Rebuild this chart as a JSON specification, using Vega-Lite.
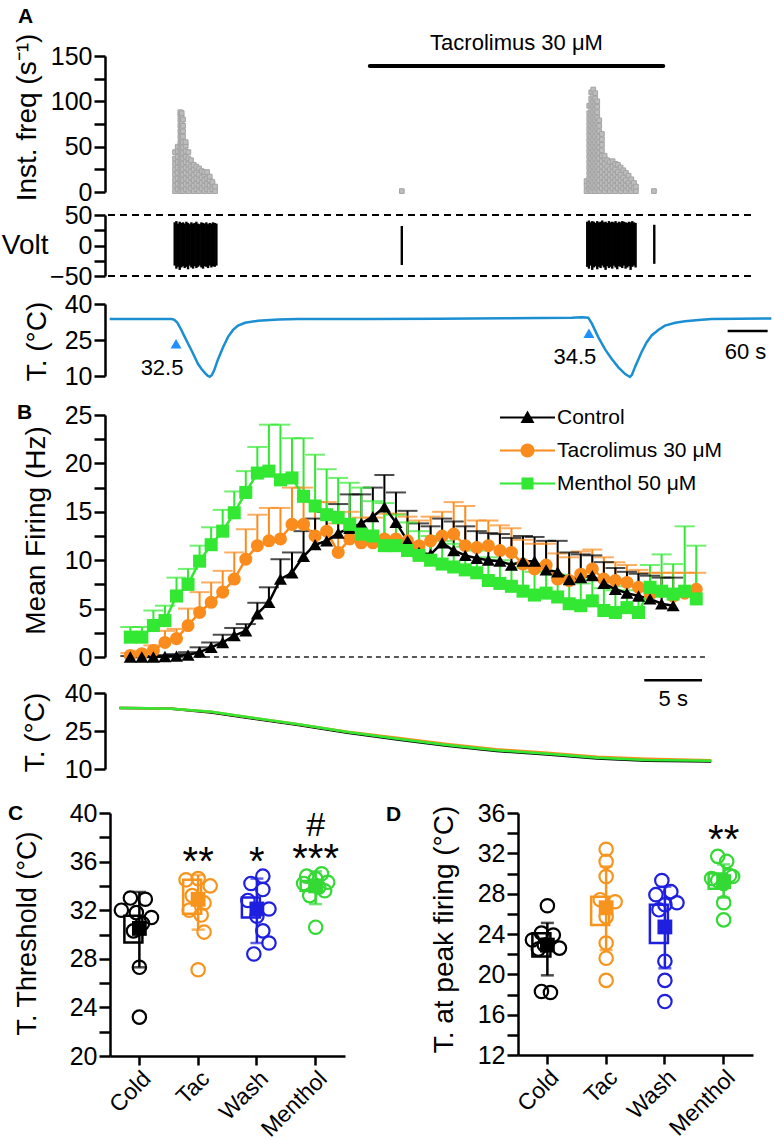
{
"$schema": "https://vega.github.io/schema/vega-lite/v6.json",
"padding": {"left": 1, "top": 5, "right": 0, "bottom": 0},
"spacing": 0,
"bounds": "flush",
"resolve": {"scale": {"color": "independent", "shape": "independent", "fill": "independent", "xOffset": "independent"}},
"config": {
  "font": "Liberation Sans",
  "view": {"stroke": null},
  "axis": {"domainColor": "#000", "domainWidth": 2.5, "tickColor": "#000", "tickWidth": 2.5, "tickSize": 11, "labelFontSize": 25, "labelColor": "#000", "labelPadding": 2, "labelOverlap": false, "titleFontSize": 28, "titleFontWeight": "normal", "titleColor": "#000", "titlePadding": 4, "grid": false, "labelFont": "Liberation Sans", "titleFont": "Liberation Sans"},
  "title": {"fontSize": 21, "fontWeight": "bold", "anchor": "start", "frame": "group", "color": "#000", "font": "Liberation Sans"},
  "text": {"font": "Liberation Sans", "color": "#000"},
  "legend": {"labelFont": "Liberation Sans", "labelColor": "#000"}
},
"datasets": {
  "freq": [
{"t":105,"f":1},{"t":105,"f":7},{"t":105,"f":13},{"t":105,"f":19},{"t":105,"f":25},{"t":105,"f":31},{"t":105,"f":37},{"t":105,"f":44},
{"t":109,"f":3},{"t":109,"f":9},{"t":109,"f":15},{"t":109,"f":21},{"t":109,"f":27},{"t":109,"f":33},{"t":109,"f":39},{"t":109,"f":45},{"t":109,"f":50},
{"t":113,"f":1},{"t":113,"f":7},{"t":113,"f":13},{"t":113,"f":19},{"t":113,"f":25},{"t":113,"f":31},{"t":113,"f":37},{"t":113,"f":43},{"t":113,"f":49},{"t":113,"f":55},{"t":113,"f":61},{"t":113,"f":67},{"t":113,"f":73},{"t":113,"f":79},{"t":113,"f":85},{"t":113,"f":88},
{"t":115,"f":4},{"t":115,"f":10},{"t":115,"f":16},{"t":115,"f":22},{"t":115,"f":28},{"t":115,"f":34},{"t":115,"f":40},{"t":115,"f":46},{"t":115,"f":52},{"t":115,"f":58},{"t":115,"f":64},{"t":115,"f":70},{"t":115,"f":76},{"t":115,"f":82},{"t":115,"f":87},
{"t":117,"f":1},{"t":117,"f":7},{"t":117,"f":13},{"t":117,"f":19},{"t":117,"f":25},{"t":117,"f":31},{"t":117,"f":37},{"t":117,"f":43},{"t":117,"f":49},{"t":117,"f":55},{"t":117,"f":61},{"t":117,"f":67},{"t":117,"f":73},{"t":117,"f":80},
{"t":121,"f":3},{"t":121,"f":9},{"t":121,"f":15},{"t":121,"f":21},{"t":121,"f":27},{"t":121,"f":33},{"t":121,"f":39},{"t":121,"f":45},{"t":121,"f":51},{"t":121,"f":55},
{"t":125,"f":1},{"t":125,"f":7},{"t":125,"f":13},{"t":125,"f":19},{"t":125,"f":25},{"t":125,"f":31},{"t":125,"f":37},{"t":125,"f":44},
{"t":129,"f":4},{"t":129,"f":10},{"t":129,"f":16},{"t":129,"f":22},{"t":129,"f":28},{"t":129,"f":35},
{"t":133,"f":1},{"t":133,"f":7},{"t":133,"f":13},{"t":133,"f":19},{"t":133,"f":25},{"t":133,"f":30},
{"t":137,"f":3},{"t":137,"f":9},{"t":137,"f":15},{"t":137,"f":21},{"t":137,"f":28},
{"t":141,"f":1},{"t":141,"f":7},{"t":141,"f":13},{"t":141,"f":19},{"t":141,"f":26},
{"t":145,"f":4},{"t":145,"f":10},{"t":145,"f":16},{"t":145,"f":23},
{"t":149,"f":1},{"t":149,"f":7},{"t":149,"f":13},{"t":149,"f":19},{"t":149,"f":22},
{"t":153,"f":3},{"t":153,"f":9},{"t":153,"f":15},{"t":153,"f":22},
{"t":157,"f":1},{"t":157,"f":7},{"t":157,"f":13},{"t":157,"f":17},
{"t":161,"f":3},{"t":161,"f":9},{"t":161,"f":11},
{"t":165,"f":1},{"t":165,"f":6},
{"t":445,"f":1},
{"t":722,"f":1},{"t":722,"f":7},{"t":722,"f":12},
{"t":726,"f":3},{"t":726,"f":9},{"t":726,"f":15},{"t":726,"f":21},{"t":726,"f":27},{"t":726,"f":33},{"t":726,"f":39},{"t":726,"f":45},{"t":726,"f":51},{"t":726,"f":57},{"t":726,"f":63},{"t":726,"f":69},{"t":726,"f":75},{"t":726,"f":81},{"t":726,"f":87},{"t":726,"f":95},
{"t":729,"f":1},{"t":729,"f":7},{"t":729,"f":13},{"t":729,"f":19},{"t":729,"f":25},{"t":729,"f":31},{"t":729,"f":37},{"t":729,"f":43},{"t":729,"f":49},{"t":729,"f":55},{"t":729,"f":61},{"t":729,"f":67},{"t":729,"f":73},{"t":729,"f":79},{"t":729,"f":85},{"t":729,"f":91},{"t":729,"f":97},{"t":729,"f":103},{"t":729,"f":110},
{"t":732,"f":4},{"t":732,"f":10},{"t":732,"f":16},{"t":732,"f":22},{"t":732,"f":28},{"t":732,"f":34},{"t":732,"f":40},{"t":732,"f":46},{"t":732,"f":52},{"t":732,"f":58},{"t":732,"f":64},{"t":732,"f":70},{"t":732,"f":76},{"t":732,"f":82},{"t":732,"f":88},{"t":732,"f":94},{"t":732,"f":100},{"t":732,"f":106},{"t":732,"f":113},
{"t":735,"f":1},{"t":735,"f":7},{"t":735,"f":13},{"t":735,"f":19},{"t":735,"f":25},{"t":735,"f":31},{"t":735,"f":37},{"t":735,"f":43},{"t":735,"f":49},{"t":735,"f":55},{"t":735,"f":61},{"t":735,"f":67},{"t":735,"f":73},{"t":735,"f":79},{"t":735,"f":85},{"t":735,"f":91},{"t":735,"f":97},{"t":735,"f":103},{"t":735,"f":109},
{"t":738,"f":4},{"t":738,"f":10},{"t":738,"f":16},{"t":738,"f":22},{"t":738,"f":28},{"t":738,"f":34},{"t":738,"f":40},{"t":738,"f":46},{"t":738,"f":52},{"t":738,"f":58},{"t":738,"f":64},{"t":738,"f":70},{"t":738,"f":76},{"t":738,"f":82},{"t":738,"f":88},{"t":738,"f":94},{"t":738,"f":100},
{"t":741,"f":1},{"t":741,"f":7},{"t":741,"f":13},{"t":741,"f":19},{"t":741,"f":25},{"t":741,"f":31},{"t":741,"f":37},{"t":741,"f":43},{"t":741,"f":49},{"t":741,"f":55},{"t":741,"f":61},{"t":741,"f":67},{"t":741,"f":73},{"t":741,"f":79},
{"t":745,"f":4},{"t":745,"f":10},{"t":745,"f":16},{"t":745,"f":22},{"t":745,"f":28},{"t":745,"f":34},{"t":745,"f":40},{"t":745,"f":46},{"t":745,"f":52},{"t":745,"f":58},{"t":745,"f":64},
{"t":749,"f":1},{"t":749,"f":7},{"t":749,"f":13},{"t":749,"f":19},{"t":749,"f":25},{"t":749,"f":31},{"t":749,"f":37},{"t":749,"f":40},
{"t":753,"f":4},{"t":753,"f":10},{"t":753,"f":16},{"t":753,"f":22},{"t":753,"f":28},{"t":753,"f":35},
{"t":757,"f":1},{"t":757,"f":7},{"t":757,"f":13},{"t":757,"f":19},{"t":757,"f":25},{"t":757,"f":33},
{"t":761,"f":4},{"t":761,"f":10},{"t":761,"f":16},{"t":761,"f":22},{"t":761,"f":28},{"t":761,"f":34},
{"t":765,"f":1},{"t":765,"f":7},{"t":765,"f":13},{"t":765,"f":19},{"t":765,"f":25},{"t":765,"f":31},
{"t":769,"f":4},{"t":769,"f":10},{"t":769,"f":16},{"t":769,"f":22},{"t":769,"f":30},
{"t":773,"f":1},{"t":773,"f":7},{"t":773,"f":13},{"t":773,"f":19},{"t":773,"f":27},
{"t":777,"f":4},{"t":777,"f":10},{"t":777,"f":16},{"t":777,"f":24},
{"t":781,"f":1},{"t":781,"f":7},{"t":781,"f":13},{"t":781,"f":21},
{"t":785,"f":4},{"t":785,"f":10},{"t":785,"f":18},
{"t":789,"f":1},{"t":789,"f":7},{"t":789,"f":14},
{"t":793,"f":4},{"t":793,"f":10},
{"t":796,"f":1},{"t":796,"f":6},
{"t":823,"f":1}
  ],
  "volt": [
{"t":104.5,"v":-33,"v2":38},{"t":107,"v":-38,"v2":40},{"t":109.5,"v":-35,"v2":36},{"t":112,"v":-40,"v2":39},{"t":114.5,"v":-36,"v2":37},{"t":117,"v":-34,"v2":38},{"t":119.5,"v":-37,"v2":36},{"t":122,"v":-35,"v2":39},{"t":124.5,"v":-39,"v2":37},{"t":127,"v":-33,"v2":35},{"t":129.5,"v":-36,"v2":38},{"t":132,"v":-38,"v2":36},{"t":134.5,"v":-34,"v2":37},{"t":137,"v":-37,"v2":39},{"t":139.5,"v":-35,"v2":36},{"t":142,"v":-33,"v2":35},{"t":144.5,"v":-36,"v2":38},{"t":147,"v":-38,"v2":37},{"t":149.5,"v":-34,"v2":36},{"t":152,"v":-35,"v2":38},{"t":154.5,"v":-37,"v2":35},{"t":157,"v":-33,"v2":37},{"t":159.5,"v":-36,"v2":36},{"t":162,"v":-34,"v2":38},{"t":164.5,"v":-35,"v2":37},{"t":167,"v":-33,"v2":36},
{"t":445,"v":-32,"v2":32},
{"t":723,"v":-35,"v2":39},{"t":725.5,"v":-38,"v2":41},{"t":728,"v":-33,"v2":38},{"t":730.5,"v":-40,"v2":40},{"t":733,"v":-36,"v2":39},{"t":735.5,"v":-34,"v2":37},{"t":738,"v":-39,"v2":40},{"t":740.5,"v":-35,"v2":38},{"t":743,"v":-37,"v2":39},{"t":745.5,"v":-33,"v2":41},{"t":748,"v":-36,"v2":38},{"t":750.5,"v":-40,"v2":39},{"t":753,"v":-34,"v2":37},{"t":755.5,"v":-37,"v2":40},{"t":758,"v":-35,"v2":38},{"t":760.5,"v":-38,"v2":39},{"t":763,"v":-33,"v2":38},{"t":765.5,"v":-36,"v2":40},{"t":768,"v":-39,"v2":37},{"t":770.5,"v":-34,"v2":39},{"t":773,"v":-35,"v2":38},{"t":775.5,"v":-37,"v2":40},{"t":778,"v":-33,"v2":39},{"t":780.5,"v":-38,"v2":38},{"t":783,"v":-36,"v2":37},{"t":785.5,"v":-34,"v2":39},{"t":788,"v":-40,"v2":38},{"t":790.5,"v":-35,"v2":40},{"t":793,"v":-33,"v2":38},{"t":795.5,"v":-36,"v2":37},
{"t":823.5,"v":-30,"v2":34}
  ],
  "tempA": [
{"t":7,"T":33.7},{"t":50,"T":33.8},{"t":100,"T":33.7},{"t":104,"T":33.4},{"t":108,"T":32.4},{"t":113,"T":30},{"t":119.5,"T":26.3},{"t":125,"T":23.2},{"t":130,"T":20.5},{"t":135,"T":17.6},{"t":139.5,"T":15},{"t":145,"T":12.8},{"t":150,"T":11.2},{"t":154,"T":10.1},{"t":157,"T":9.7},{"t":160,"T":10.3},{"t":164,"T":12.6},{"t":169.5,"T":17},{"t":177,"T":22},{"t":184.5,"T":26.3},{"t":192,"T":29.2},{"t":199.5,"T":31},{"t":210,"T":32.2},{"t":229.5,"T":33},{"t":260,"T":33.5},{"t":289.5,"T":33.75},{"t":350,"T":33.8},{"t":400,"T":33.8},{"t":500,"T":33.9},{"t":600,"T":34.1},{"t":700,"T":34.3},{"t":715,"T":34.5},{"t":724.5,"T":34.3},{"t":730,"T":31.8},{"t":739.5,"T":26.2},{"t":750,"T":21},{"t":759.5,"T":17.2},{"t":770,"T":13.5},{"t":780,"T":10.8},{"t":787,"T":9.6},{"t":790,"T":10.5},{"t":795,"T":14},{"t":804.5,"T":20},{"t":812,"T":24},{"t":819.5,"T":26.9},{"t":830,"T":29.3},{"t":839.5,"T":31},{"t":855,"T":32.2},{"t":869.5,"T":32.8},{"t":890,"T":33.3},{"t":909.5,"T":33.7},{"t":950,"T":33.9},{"t":999,"T":34}
  ],
  "bser": [
{"g":"Tacrolimus 30 μM","t":0,"m":0.16,"hi":0.4},{"g":"Tacrolimus 30 μM","t":1,"m":0.34,"hi":0.6},{"g":"Tacrolimus 30 μM","t":2,"m":0.68,"hi":1.2},{"g":"Tacrolimus 30 μM","t":3,"m":1.5,"hi":2.7},{"g":"Tacrolimus 30 μM","t":4,"m":1.9,"hi":2.9},{"g":"Tacrolimus 30 μM","t":5,"m":3.25,"hi":5.0},{"g":"Tacrolimus 30 μM","t":6,"m":4.6,"hi":6.7},{"g":"Tacrolimus 30 μM","t":7,"m":5.65,"hi":7.7},{"g":"Tacrolimus 30 μM","t":8,"m":6.7,"hi":8.9},{"g":"Tacrolimus 30 μM","t":9,"m":8.05,"hi":10.8},{"g":"Tacrolimus 30 μM","t":10,"m":10.1,"hi":13.2},{"g":"Tacrolimus 30 μM","t":11,"m":11.5,"hi":14.7},{"g":"Tacrolimus 30 μM","t":12,"m":12.0,"hi":15.4},{"g":"Tacrolimus 30 μM","t":13,"m":12.2,"hi":15.4},{"g":"Tacrolimus 30 μM","t":14,"m":13.7,"hi":17.5},{"g":"Tacrolimus 30 μM","t":15,"m":13.7,"hi":17.5},{"g":"Tacrolimus 30 μM","t":16,"m":12.5,"hi":16.0},{"g":"Tacrolimus 30 μM","t":17,"m":13.0,"hi":16.0},{"g":"Tacrolimus 30 μM","t":18,"m":10.8,"hi":13.8},{"g":"Tacrolimus 30 μM","t":19,"m":12.2,"hi":15.0},{"g":"Tacrolimus 30 μM","t":20,"m":11.8,"hi":14.4},{"g":"Tacrolimus 30 μM","t":21,"m":11.8,"hi":14.4},{"g":"Tacrolimus 30 μM","t":22,"m":12.2,"hi":14.8},{"g":"Tacrolimus 30 μM","t":23,"m":12.2,"hi":14.8},{"g":"Tacrolimus 30 μM","t":24,"m":12.0,"hi":14.5},{"g":"Tacrolimus 30 μM","t":25,"m":11.5,"hi":14.1},{"g":"Tacrolimus 30 μM","t":26,"m":12.0,"hi":14.5},{"g":"Tacrolimus 30 μM","t":27,"m":12.5,"hi":15.0},{"g":"Tacrolimus 30 μM","t":28,"m":12.7,"hi":16.0},{"g":"Tacrolimus 30 μM","t":29,"m":11.5,"hi":15.6},{"g":"Tacrolimus 30 μM","t":30,"m":11.3,"hi":14.1},{"g":"Tacrolimus 30 μM","t":31,"m":11.5,"hi":14.1},{"g":"Tacrolimus 30 μM","t":32,"m":11.0,"hi":13.6},{"g":"Tacrolimus 30 μM","t":33,"m":10.8,"hi":13.3},{"g":"Tacrolimus 30 μM","t":34,"m":9.6,"hi":12.1},{"g":"Tacrolimus 30 μM","t":35,"m":9.1,"hi":11.7},{"g":"Tacrolimus 30 μM","t":36,"m":9.5,"hi":11.7},{"g":"Tacrolimus 30 μM","t":37,"m":8.05,"hi":10.7},{"g":"Tacrolimus 30 μM","t":38,"m":7.9,"hi":10.3},{"g":"Tacrolimus 30 μM","t":39,"m":8.55,"hi":10.9},{"g":"Tacrolimus 30 μM","t":40,"m":9.1,"hi":11.1},{"g":"Tacrolimus 30 μM","t":41,"m":8.05,"hi":10.3},{"g":"Tacrolimus 30 μM","t":42,"m":7.9,"hi":9.8},{"g":"Tacrolimus 30 μM","t":43,"m":7.7,"hi":9.5},{"g":"Tacrolimus 30 μM","t":44,"m":7.2,"hi":9.0},{"g":"Tacrolimus 30 μM","t":45,"m":6.5,"hi":8.7},{"g":"Tacrolimus 30 μM","t":46,"m":6.8,"hi":8.7},{"g":"Tacrolimus 30 μM","t":47,"m":6.3,"hi":8.7},{"g":"Tacrolimus 30 μM","t":48,"m":6.6,"hi":8.7},{"g":"Tacrolimus 30 μM","t":49,"m":7.0,"hi":8.7},
{"g":"Control","t":0,"m":0,"hi":0.1},{"g":"Control","t":1,"m":0,"hi":0.1},{"g":"Control","t":2,"m":0,"hi":0.1},{"g":"Control","t":3,"m":0.05,"hi":0.2},{"g":"Control","t":4,"m":0.1,"hi":0.3},{"g":"Control","t":5,"m":0.2,"hi":0.5},{"g":"Control","t":6,"m":0.5,"hi":1.0},{"g":"Control","t":7,"m":1.0,"hi":1.5},{"g":"Control","t":8,"m":1.5,"hi":2.3},{"g":"Control","t":9,"m":2.2,"hi":3.0},{"g":"Control","t":10,"m":2.7,"hi":3.4},{"g":"Control","t":11,"m":4.45,"hi":5.6},{"g":"Control","t":12,"m":5.65,"hi":7.2},{"g":"Control","t":13,"m":8.05,"hi":10.1},{"g":"Control","t":14,"m":8.7,"hi":10.8},{"g":"Control","t":15,"m":10.4,"hi":13.0},{"g":"Control","t":16,"m":11.6,"hi":14.3},{"g":"Control","t":17,"m":12.0,"hi":15.0},{"g":"Control","t":18,"m":12.8,"hi":15.8},{"g":"Control","t":19,"m":13.3,"hi":16.8},{"g":"Control","t":20,"m":13.8,"hi":16.8},{"g":"Control","t":21,"m":14.5,"hi":17.5},{"g":"Control","t":22,"m":15.5,"hi":18.8},{"g":"Control","t":23,"m":13.9,"hi":17.0},{"g":"Control","t":24,"m":12.0,"hi":15.1},{"g":"Control","t":25,"m":10.8,"hi":13.8},{"g":"Control","t":26,"m":10.6,"hi":13.5},{"g":"Control","t":27,"m":11.8,"hi":14.3},{"g":"Control","t":28,"m":11.0,"hi":14.0},{"g":"Control","t":29,"m":10.5,"hi":13.5},{"g":"Control","t":30,"m":10.2,"hi":13.0},{"g":"Control","t":31,"m":10.0,"hi":12.8},{"g":"Control","t":32,"m":9.9,"hi":12.7},{"g":"Control","t":33,"m":9.5,"hi":12.3},{"g":"Control","t":34,"m":9.9,"hi":12.5},{"g":"Control","t":35,"m":9.9,"hi":12.4},{"g":"Control","t":36,"m":9.0,"hi":12.0},{"g":"Control","t":37,"m":8.8,"hi":12.0},{"g":"Control","t":38,"m":8.0,"hi":10.8},{"g":"Control","t":39,"m":8.2,"hi":10.6},{"g":"Control","t":40,"m":8.4,"hi":10.5},{"g":"Control","t":41,"m":7.6,"hi":9.8},{"g":"Control","t":42,"m":7.0,"hi":9.2},{"g":"Control","t":43,"m":6.6,"hi":8.8},{"g":"Control","t":44,"m":6.3,"hi":8.6},{"g":"Control","t":45,"m":6.0,"hi":8.4},{"g":"Control","t":46,"m":5.5,"hi":8.2},{"g":"Control","t":47,"m":5.3,"hi":8.2},
{"g":"Menthol 50 μM","t":0,"m":2.05,"hi":3.1},{"g":"Menthol 50 μM","t":1,"m":2.05,"hi":3.1},{"g":"Menthol 50 μM","t":2,"m":3.25,"hi":4.8},{"g":"Menthol 50 μM","t":3,"m":3.76,"hi":5.3},{"g":"Menthol 50 μM","t":4,"m":6.3,"hi":8.2},{"g":"Menthol 50 μM","t":5,"m":7.5,"hi":9.1},{"g":"Menthol 50 μM","t":6,"m":9.9,"hi":11.5},{"g":"Menthol 50 μM","t":7,"m":11.6,"hi":13.4},{"g":"Menthol 50 μM","t":8,"m":13.0,"hi":15.2},{"g":"Menthol 50 μM","t":9,"m":14.9,"hi":17.1},{"g":"Menthol 50 μM","t":10,"m":17.0,"hi":19.2},{"g":"Menthol 50 μM","t":11,"m":19.0,"hi":21.7},{"g":"Menthol 50 μM","t":12,"m":19.2,"hi":24.0},{"g":"Menthol 50 μM","t":13,"m":18.3,"hi":24.0},{"g":"Menthol 50 μM","t":14,"m":18.5,"hi":22.6},{"g":"Menthol 50 μM","t":15,"m":16.6,"hi":22.6},{"g":"Menthol 50 μM","t":16,"m":15.6,"hi":20.9},{"g":"Menthol 50 μM","t":17,"m":14.7,"hi":19.4},{"g":"Menthol 50 μM","t":18,"m":14.4,"hi":18.5},{"g":"Menthol 50 μM","t":19,"m":13.7,"hi":18.0},{"g":"Menthol 50 μM","t":20,"m":12.7,"hi":17.5},{"g":"Menthol 50 μM","t":21,"m":12.5,"hi":16.1},{"g":"Menthol 50 μM","t":22,"m":11.5,"hi":15.9},{"g":"Menthol 50 μM","t":23,"m":11.5,"hi":14.7},{"g":"Menthol 50 μM","t":24,"m":11.0,"hi":13.9},{"g":"Menthol 50 μM","t":25,"m":10.5,"hi":13.0},{"g":"Menthol 50 μM","t":26,"m":10.0,"hi":12.5},{"g":"Menthol 50 μM","t":27,"m":9.6,"hi":12.0},{"g":"Menthol 50 μM","t":28,"m":9.3,"hi":11.7},{"g":"Menthol 50 μM","t":29,"m":9.0,"hi":11.4},{"g":"Menthol 50 μM","t":30,"m":8.7,"hi":11.0},{"g":"Menthol 50 μM","t":31,"m":7.9,"hi":10.3},{"g":"Menthol 50 μM","t":32,"m":7.6,"hi":10.0},{"g":"Menthol 50 μM","t":33,"m":7.3,"hi":9.7},{"g":"Menthol 50 μM","t":34,"m":6.8,"hi":9.2},{"g":"Menthol 50 μM","t":35,"m":6.4,"hi":8.8},{"g":"Menthol 50 μM","t":36,"m":6.6,"hi":8.9},{"g":"Menthol 50 μM","t":37,"m":6.2,"hi":8.5},{"g":"Menthol 50 μM","t":38,"m":5.5,"hi":7.9},{"g":"Menthol 50 μM","t":39,"m":5.3,"hi":7.6},{"g":"Menthol 50 μM","t":40,"m":5.8,"hi":8.0},{"g":"Menthol 50 μM","t":41,"m":4.8,"hi":7.1},{"g":"Menthol 50 μM","t":42,"m":4.6,"hi":6.9},{"g":"Menthol 50 μM","t":43,"m":5.1,"hi":7.3},{"g":"Menthol 50 μM","t":44,"m":4.6,"hi":6.9},{"g":"Menthol 50 μM","t":45,"m":7.2,"hi":9.5},{"g":"Menthol 50 μM","t":46,"m":6.8,"hi":10.6},{"g":"Menthol 50 μM","t":47,"m":6.5,"hi":9.6},{"g":"Menthol 50 μM","t":48,"m":6.8,"hi":13.5},{"g":"Menthol 50 μM","t":49,"m":6.0,"hi":11.5}
  ],
  "bT": [
{"g":"Control","t":-0.94,"T":34.1},{"g":"Control","t":1.5,"T":34.0},{"g":"Control","t":3.6,"T":33.8},{"g":"Control","t":7,"T":32.3},{"g":"Control","t":10.1,"T":30.2},{"g":"Control","t":14.4,"T":27.5},{"g":"Control","t":18.8,"T":24.3},{"g":"Control","t":23.1,"T":21.6},{"g":"Control","t":27.4,"T":19.2},{"g":"Control","t":31.7,"T":17.1},{"g":"Control","t":36.1,"T":15.7},{"g":"Control","t":40.4,"T":14.1},{"g":"Control","t":44.7,"T":13.3},{"g":"Control","t":50.3,"T":13.0},
{"g":"Tacrolimus 30 μM","t":-0.94,"T":34.1},{"g":"Tacrolimus 30 μM","t":1.5,"T":34.0},{"g":"Tacrolimus 30 μM","t":3.6,"T":33.8},{"g":"Tacrolimus 30 μM","t":7,"T":32.6},{"g":"Tacrolimus 30 μM","t":10.1,"T":30.5},{"g":"Tacrolimus 30 μM","t":14.4,"T":27.8},{"g":"Tacrolimus 30 μM","t":18.8,"T":24.7},{"g":"Tacrolimus 30 μM","t":23.1,"T":22.3},{"g":"Tacrolimus 30 μM","t":27.4,"T":19.9},{"g":"Tacrolimus 30 μM","t":31.7,"T":17.8},{"g":"Tacrolimus 30 μM","t":36.1,"T":16.4},{"g":"Tacrolimus 30 μM","t":40.4,"T":14.8},{"g":"Tacrolimus 30 μM","t":44.7,"T":14.0},{"g":"Tacrolimus 30 μM","t":50.3,"T":13.5},
{"g":"Menthol 50 μM","t":-0.94,"T":34.1},{"g":"Menthol 50 μM","t":1.5,"T":34.0},{"g":"Menthol 50 μM","t":3.6,"T":33.8},{"g":"Menthol 50 μM","t":7,"T":32.6},{"g":"Menthol 50 μM","t":10.1,"T":30.5},{"g":"Menthol 50 μM","t":14.4,"T":27.8},{"g":"Menthol 50 μM","t":18.8,"T":24.6},{"g":"Menthol 50 μM","t":23.1,"T":21.9},{"g":"Menthol 50 μM","t":27.4,"T":19.5},{"g":"Menthol 50 μM","t":31.7,"T":17.4},{"g":"Menthol 50 μM","t":36.1,"T":16.0},{"g":"Menthol 50 μM","t":40.4,"T":14.4},{"g":"Menthol 50 μM","t":44.7,"T":13.6},{"g":"Menthol 50 μM","t":50.3,"T":13.3}
  ],
  "cstat": [
{"grp":"Cold","lo":29.34,"hi":31.54,"mean":30.5,"wlo":27.3,"whi":33.5},
{"grp":"Tac","lo":31.7,"hi":34.5,"mean":32.9,"wlo":30.4,"whi":34.9},
{"grp":"Wash","lo":31.4,"hi":33.05,"mean":32.1,"wlo":29.3,"whi":34.6},
{"grp":"Menthol","lo":33.6,"hi":34.4,"mean":34.0,"wlo":32.5,"whi":35.2}
  ],
  "cpts": [
{"grp":"Cold","val":33.0,"j":-0.5},{"grp":"Cold","val":32.9,"j":0.33},{"grp":"Cold","val":32.0,"j":-1},{"grp":"Cold","val":31.8,"j":-0.17},{"grp":"Cold","val":31.4,"j":0.67},{"grp":"Cold","val":30.9,"j":0.17},{"grp":"Cold","val":30.3,"j":-0.33},{"grp":"Cold","val":27.3,"j":0},{"grp":"Cold","val":23.2,"j":0},
{"grp":"Tac","val":34.6,"j":0},{"grp":"Tac","val":34.5,"j":-0.67},{"grp":"Tac","val":34.0,"j":0.67},{"grp":"Tac","val":33.2,"j":-0.33},{"grp":"Tac","val":32.6,"j":0.33},{"grp":"Tac","val":32.0,"j":-0.5},{"grp":"Tac","val":31.6,"j":0.17},{"grp":"Tac","val":30.2,"j":0.33},{"grp":"Tac","val":27.1,"j":0},
{"grp":"Wash","val":34.8,"j":0.33},{"grp":"Wash","val":34.2,"j":-0.33},{"grp":"Wash","val":33.7,"j":0.33},{"grp":"Wash","val":32.8,"j":-0.5},{"grp":"Wash","val":32.1,"j":0.67},{"grp":"Wash","val":31.5,"j":0},{"grp":"Wash","val":30.3,"j":0.33},{"grp":"Wash","val":29.3,"j":0.67},{"grp":"Wash","val":28.4,"j":-0.17},
{"grp":"Menthol","val":35.0,"j":0.33},{"grp":"Menthol","val":34.8,"j":-0.5},{"grp":"Menthol","val":34.6,"j":0},{"grp":"Menthol","val":34.3,"j":0.67},{"grp":"Menthol","val":34.2,"j":-0.67},{"grp":"Menthol","val":33.9,"j":0.17},{"grp":"Menthol","val":33.6,"j":0.5},{"grp":"Menthol","val":33.2,"j":-0.33},{"grp":"Menthol","val":30.6,"j":0}
  ],
  "dstat": [
{"grp":"Cold","lo":21.76,"hi":24.08,"mean":22.9,"wlo":19.9,"whi":25.1},
{"grp":"Tac","lo":24.9,"hi":27.7,"mean":26.6,"wlo":22.4,"whi":30.7},
{"grp":"Wash","lo":23.1,"hi":26.9,"mean":24.7,"wlo":20.6,"whi":28.7},
{"grp":"Menthol","lo":28.5,"hi":30.0,"mean":29.2,"wlo":27.6,"whi":30.9}
  ],
  "dpts": [
{"grp":"Cold","val":26.8,"j":0},{"grp":"Cold","val":24.1,"j":-0.33},{"grp":"Cold","val":23.9,"j":0.33},{"grp":"Cold","val":23.4,"j":-0.83},{"grp":"Cold","val":22.9,"j":-0.17},{"grp":"Cold","val":22.6,"j":0.67},{"grp":"Cold","val":22.5,"j":-0.5},{"grp":"Cold","val":18.3,"j":-0.33},{"grp":"Cold","val":18.2,"j":0.17},
{"grp":"Tac","val":32.4,"j":0},{"grp":"Tac","val":31.2,"j":0},{"grp":"Tac","val":29.7,"j":0},{"grp":"Tac","val":27.4,"j":-0.33},{"grp":"Tac","val":27.2,"j":0.5},{"grp":"Tac","val":25.7,"j":0},{"grp":"Tac","val":23.1,"j":0},{"grp":"Tac","val":21.6,"j":0},{"grp":"Tac","val":19.4,"j":0},
{"grp":"Wash","val":29.3,"j":-0.17},{"grp":"Wash","val":28.2,"j":0.33},{"grp":"Wash","val":27.9,"j":-0.5},{"grp":"Wash","val":27.1,"j":0.67},{"grp":"Wash","val":26.9,"j":0},{"grp":"Wash","val":26.4,"j":-0.33},{"grp":"Wash","val":21.3,"j":0},{"grp":"Wash","val":19.4,"j":0},{"grp":"Wash","val":17.3,"j":0},
{"grp":"Menthol","val":31.7,"j":-0.33},{"grp":"Menthol","val":31.2,"j":0.17},{"grp":"Menthol","val":29.8,"j":0.33},{"grp":"Menthol","val":29.7,"j":0.5},{"grp":"Menthol","val":29.5,"j":-0.67},{"grp":"Menthol","val":29.3,"j":-0.33},{"grp":"Menthol","val":29.0,"j":0},{"grp":"Menthol","val":27.1,"j":0},{"grp":"Menthol","val":25.4,"j":0}
  ]
},
"vconcat": [
  {
    "width": 667, "height": 136,
    "title": {"text": "A", "dx": -87, "dy": 12, "offset": 0, "baseline": "alphabetic"},
    "encoding": {
      "x": {"field": "t", "type": "quantitative", "scale": {"domain": [0, 1000], "nice": false, "zero": false}, "axis": null},
      "y": {"field": "f", "type": "quantitative", "scale": {"domain": [0, 150], "nice": false, "zero": false}, "axis": {"values": [0, 25, 50, 75, 100, 125, 150], "labelExpr": "datum.value % 50 === 0 ? datum.label : ''", "title": "Inst. freq (s⁻¹)", "titleX": -64, "titleY": 61, "titleAngle": -90, "titleAlign": "center", "titleBaseline": "bottom"}}
    },
    "layer": [
      {"data": {"name": "freq"}, "mark": {"type": "point", "shape": "square", "filled": true, "size": 22, "fill": "#bdbdbd", "stroke": "#a3a3a3", "strokeWidth": 1, "opacity": 1}},
      {"data": {"values": [{"t": 397, "t2": 837, "f": 139}]}, "mark": {"type": "rule", "strokeWidth": 4, "color": "#000", "strokeCap": "round"}, "encoding": {"x2": {"field": "t2"}}},
      {"data": {"values": [{"t": 617, "f": 139, "label": "Tacrolimus 30 μM"}]}, "mark": {"type": "text", "fontSize": 22, "dy": -23, "baseline": "middle", "align": "center"}, "encoding": {"text": {"field": "label"}}}
    ]
  },
  {"width": 1, "height": 23, "data": {"values": []}, "mark": "point"},
  {
    "width": 667, "height": 61,
    "encoding": {
      "x": {"field": "t", "type": "quantitative", "scale": {"domain": [0, 1000], "nice": false, "zero": false}, "axis": null},
      "y": {"field": "v", "type": "quantitative", "scale": {"domain": [-50, 50], "nice": false, "zero": false}, "axis": {"values": [-50, -25, 0, 25, 50], "labelExpr": "datum.value % 50 === 0 ? datum.label : ''", "title": "Volt", "titleAngle": 0, "titleAlign": "right", "titleBaseline": "middle", "titleX": -57, "titleY": 30.5}}
    },
    "layer": [
      {"data": {"values": [{"t": 4.5, "t2": 969, "v": 50}, {"t": 4.5, "t2": 969, "v": -50}]}, "mark": {"type": "rule", "strokeDash": [7, 5], "strokeWidth": 2, "color": "#000"}, "encoding": {"x2": {"field": "t2"}}},
      {"data": {"name": "volt"}, "mark": {"type": "rule", "strokeWidth": 2.4, "color": "#000"}, "encoding": {"y2": {"field": "v2"}}}
    ]
  },
  {"width": 1, "height": 28, "data": {"values": []}, "mark": "point"},
  {
    "width": 667, "height": 72,
    "encoding": {
      "x": {"field": "t", "type": "quantitative", "scale": {"domain": [0, 1000], "nice": false, "zero": false}, "axis": null},
      "y": {"field": "T", "type": "quantitative", "scale": {"domain": [10, 40], "nice": false, "zero": false}, "axis": {"values": [10, 25, 40], "title": "T. (°C)", "titleX": -54, "titleY": 37, "titleAngle": -90, "titleAlign": "center", "titleBaseline": "bottom"}}
    },
    "layer": [
      {"data": {"name": "tempA"}, "mark": {"type": "line", "color": "#1b8fd2", "strokeWidth": 2.5}},
      {"data": {"values": [{"t": 106.5, "T": 23.4, "lab": "32.5"}, {"t": 725.5, "T": 27.8, "lab": "34.5"}]}, "layer": [
        {"mark": {"type": "point", "shape": "triangle-up", "filled": true, "size": 120, "color": "#1e90ff", "opacity": 1}},
        {"mark": {"type": "text", "fontSize": 22, "dx": -14, "dy": 24, "baseline": "middle"}, "encoding": {"text": {"field": "lab"}}}
      ]},
      {"data": {"values": [{"t": 933.5, "t2": 993.5, "T": 28.7, "lab": "60 s"}]}, "layer": [
        {"mark": {"type": "rule", "strokeWidth": 2.5, "color": "#000"}, "encoding": {"x2": {"field": "t2"}}},
        {"mark": {"type": "text", "fontSize": 22, "align": "left", "dx": -3, "dy": 21, "baseline": "middle"}, "encoding": {"text": {"field": "lab"}}}
      ]}
    ]
  },
  {"width": 1, "height": 39, "data": {"values": []}, "mark": "point"},
  {
    "width": 605, "height": 242,
    "title": {"text": "B", "dx": -88, "dy": 37, "offset": 0, "baseline": "alphabetic"},
    "encoding": {
      "x": {"field": "t", "type": "quantitative", "scale": {"domain": [-2.19, 50.19], "nice": false, "zero": false}, "axis": null},
      "y": {"field": "m", "type": "quantitative", "scale": {"domain": [0, 25], "nice": false, "zero": false}, "axis": {"values": [0, 2.5, 5, 7.5, 10, 12.5, 15, 17.5, 20, 22.5, 25], "labelExpr": "datum.value % 5 === 0 ? datum.label : ''", "title": "Mean Firing (Hz)", "titleX": -55, "titleY": 115, "titleAngle": -90, "titleAlign": "center", "titleBaseline": "bottom"}}
    },
    "layer": [
      {"data": {"values": [{"t": -0.55, "t2": 49.8, "m": 0}]}, "mark": {"type": "rule", "strokeDash": [5, 4], "strokeWidth": 1.5, "color": "#222"}, "encoding": {"x2": {"field": "t2"}}},
      {"data": {"name": "bser"}, "mark": {"type": "rule", "strokeWidth": 2}, "encoding": {"y2": {"field": "hi"}, "color": {"field": "g", "type": "nominal", "scale": {"domain": ["Control", "Tacrolimus 30 μM", "Menthol 50 μM"], "range": ["#000000", "#fa8c1e", "#33e833"]}, "legend": null}}},
      {"data": {"name": "bser"}, "mark": {"type": "tick", "orient": "horizontal", "size": 20, "thickness": 2}, "encoding": {"y": {"field": "hi", "type": "quantitative", "scale": {"domain": [0, 25], "nice": false, "zero": false}, "axis": {"values": [0, 2.5, 5, 7.5, 10, 12.5, 15, 17.5, 20, 22.5, 25], "labelExpr": "datum.value % 5 === 0 ? datum.label : ''", "title": "Mean Firing (Hz)", "titleX": -55, "titleY": 115, "titleAngle": -90, "titleAlign": "center", "titleBaseline": "bottom"}}, "color": {"field": "g", "type": "nominal", "scale": {"domain": ["Control", "Tacrolimus 30 μM", "Menthol 50 μM"], "range": ["#000000", "#fa8c1e", "#33e833"]}, "legend": null}}},
      {"data": {"name": "bser"}, "mark": {"type": "line", "strokeWidth": 2.5}, "encoding": {"color": {"field": "g", "type": "nominal", "scale": {"domain": ["Control", "Tacrolimus 30 μM", "Menthol 50 μM"], "range": ["#000000", "#fa8c1e", "#33e833"]}, "legend": null}}},
      {"data": {"name": "bser"}, "mark": {"type": "point", "filled": true, "opacity": 1, "size": 170}, "encoding": {"color": {"field": "g", "type": "nominal", "scale": {"domain": ["Control", "Tacrolimus 30 μM", "Menthol 50 μM"], "range": ["#000000", "#fa8c1e", "#33e833"]}, "legend": null}, "shape": {"field": "g", "type": "nominal", "scale": {"domain": ["Control", "Tacrolimus 30 μM", "Menthol 50 μM"], "range": ["triangle-up", "circle", "square"]}, "legend": null}}},
      {"data": {"name": "bser"}, "mark": {"type": "point", "filled": true, "opacity": 0}, "encoding": {
        "fill": {"field": "g", "type": "nominal", "scale": {"domain": ["Control", "Tacrolimus 30 μM", "Menthol 50 μM"], "range": ["#000000", "#fa8c1e", "#33e833"]}, "legend": {"title": null, "orient": "none", "legendX": 412, "legendY": -8, "direction": "vertical", "symbolSize": 100, "symbolStrokeWidth": 0, "symbolOpacity": 1, "labelFontSize": 21, "labelOffset": 19, "rowPadding": 11, "padding": 0, "labelLimit": 300}},
        "shape": {"field": "g", "type": "nominal", "scale": {"domain": ["Control", "Tacrolimus 30 μM", "Menthol 50 μM"], "range": ["M-5.5,-0.2H5.5V0.2H-5.5ZM0,-1.4L1.4,1.1H-1.4Z", "M-5.5,-0.2H5.5V0.2H-5.5ZM-1.4,0A1.4,1.4,0,1,1,1.4,0A1.4,1.4,0,1,1,-1.4,0Z", "M-5.5,-0.2H5.5V0.2H-5.5ZM-1.2,-1.2H1.2V1.2H-1.2Z"]}, "legend": {"title": null, "orient": "none", "legendX": 412, "legendY": -8, "direction": "vertical", "symbolSize": 100, "symbolStrokeWidth": 0, "symbolOpacity": 1, "labelFontSize": 21, "labelOffset": 19, "rowPadding": 11, "padding": 0, "labelLimit": 300}}
      }},
      {"data": {"values": [{"t": 44.5, "t2": 49.5, "m": -2.4, "lab": "5 s"}]}, "layer": [
        {"mark": {"type": "rule", "strokeWidth": 2.5, "color": "#000"}, "encoding": {"x2": {"field": "t2"}}},
        {"mark": {"type": "text", "fontSize": 22, "dx": 29, "dy": 19, "baseline": "middle", "align": "center"}, "encoding": {"text": {"field": "lab"}}}
      ]}
    ],
    "resolve": {"scale": {"shape": "independent", "fill": "independent"}, "legend": {"shape": "independent", "fill": "independent"}}
  },
  {"width": 1, "height": 36, "data": {"values": []}, "mark": "point"},
  {
    "width": 605, "height": 76,
    "encoding": {
      "x": {"field": "t", "type": "quantitative", "scale": {"domain": [-2.19, 50.19], "nice": false, "zero": false}, "axis": null},
      "y": {"field": "T", "type": "quantitative", "scale": {"domain": [10, 40], "nice": false, "zero": false}, "axis": {"values": [10, 25, 40], "title": "T. (°C)", "titleX": -56, "titleY": 39, "titleAngle": -90, "titleAlign": "center", "titleBaseline": "bottom"}}
    },
    "layer": [
      {"data": {"name": "bT"}, "mark": {"type": "line", "strokeWidth": 2.5}, "encoding": {"color": {"field": "g", "type": "nominal", "scale": {"domain": ["Control", "Tacrolimus 30 μM", "Menthol 50 μM"], "range": ["#000000", "#fa8c1e", "#33e833"]}, "legend": null}}}
    ]
  },
  {"width": 1, "height": 44, "data": {"values": []}, "mark": "point"},
  {
    "spacing": 0,
    "bounds": "flush",
    "resolve": {"scale": {"color": "independent", "xOffset": "independent"}},
    "hconcat": [
      {"width": 5, "height": 1, "data": {"values": []}, "mark": "point"},
      {
        "width": 235, "height": 243,
        "title": {"text": "C", "dx": -102, "dy": 40, "offset": 0, "baseline": "alphabetic"},
        "encoding": {
          "x": {"field": "grp", "type": "nominal", "scale": {"type": "band", "domain": ["Cold", "Tac", "Wash", "Menthol"], "paddingInner": 0.49, "paddingOuter": 0.245}, "axis": {"title": null, "labelAngle": -45, "labelFontSize": 23, "tickSize": 9, "labelPadding": 2}},
          "y": {"field": "val", "type": "quantitative", "scale": {"domain": [20, 40], "nice": false, "zero": false}, "axis": {"values": [20, 22, 24, 26, 28, 30, 32, 34, 36, 38, 40], "labelExpr": "datum.value % 4 === 0 ? datum.label : ''", "title": "T. Threshold (°C)", "titleFontSize": 27, "titleX": -69, "titleY": 120, "titleAngle": -90, "titleAlign": "center", "titleBaseline": "bottom"}},
          "color": {"field": "grp", "type": "nominal", "scale": {"domain": ["Cold", "Tac", "Wash", "Menthol"], "range": ["#000000", "#f7941d", "#1f1fdf", "#35d935"]}, "legend": null}
        },
        "layer": [
          {"data": {"name": "cstat"}, "mark": {"type": "bar", "filled": false, "fillOpacity": 0, "strokeWidth": 2.5}, "encoding": {"y": {"field": "lo", "type": "quantitative", "scale": {"domain": [20, 40], "nice": false, "zero": false}, "axis": {"values": [20, 22, 24, 26, 28, 30, 32, 34, 36, 38, 40], "labelExpr": "datum.value % 4 === 0 ? datum.label : ''", "title": "T. Threshold (°C)", "titleFontSize": 27, "titleX": -69, "titleY": 120, "titleAngle": -90, "titleAlign": "center", "titleBaseline": "bottom"}}, "y2": {"field": "hi"}}},
          {"data": {"name": "cstat"}, "mark": {"type": "rule", "strokeWidth": 2.5}, "encoding": {"y": {"field": "wlo", "type": "quantitative", "scale": {"domain": [20, 40], "nice": false, "zero": false}, "axis": {"values": [20, 22, 24, 26, 28, 30, 32, 34, 36, 38, 40], "labelExpr": "datum.value % 4 === 0 ? datum.label : ''", "title": "T. Threshold (°C)", "titleFontSize": 27, "titleX": -69, "titleY": 120, "titleAngle": -90, "titleAlign": "center", "titleBaseline": "bottom"}}, "y2": {"field": "whi"}}},
          {"data": {"name": "cstat"}, "mark": {"type": "tick", "orient": "horizontal", "size": 13, "thickness": 2.5}, "encoding": {"y": {"field": "whi", "type": "quantitative", "scale": {"domain": [20, 40], "nice": false, "zero": false}, "axis": {"values": [20, 22, 24, 26, 28, 30, 32, 34, 36, 38, 40], "labelExpr": "datum.value % 4 === 0 ? datum.label : ''", "title": "T. Threshold (°C)", "titleFontSize": 27, "titleX": -69, "titleY": 120, "titleAngle": -90, "titleAlign": "center", "titleBaseline": "bottom"}}}},
          {"data": {"name": "cstat"}, "mark": {"type": "tick", "orient": "horizontal", "size": 13, "thickness": 2.5}, "encoding": {"y": {"field": "wlo", "type": "quantitative", "scale": {"domain": [20, 40], "nice": false, "zero": false}, "axis": {"values": [20, 22, 24, 26, 28, 30, 32, 34, 36, 38, 40], "labelExpr": "datum.value % 4 === 0 ? datum.label : ''", "title": "T. Threshold (°C)", "titleFontSize": 27, "titleX": -69, "titleY": 120, "titleAngle": -90, "titleAlign": "center", "titleBaseline": "bottom"}}}},
          {"data": {"name": "cstat"}, "mark": {"type": "point", "shape": "square", "filled": true, "size": 220, "opacity": 1}, "encoding": {"y": {"field": "mean", "type": "quantitative", "scale": {"domain": [20, 40], "nice": false, "zero": false}, "axis": {"values": [20, 22, 24, 26, 28, 30, 32, 34, 36, 38, 40], "labelExpr": "datum.value % 4 === 0 ? datum.label : ''", "title": "T. Threshold (°C)", "titleFontSize": 27, "titleX": -69, "titleY": 120, "titleAngle": -90, "titleAlign": "center", "titleBaseline": "bottom"}}}},
          {"data": {"name": "cpts"}, "mark": {"type": "point", "shape": "circle", "filled": false, "size": 180, "strokeWidth": 2.2, "opacity": 1}, "encoding": {"xOffset": {"field": "j", "type": "quantitative", "scale": {"domain": [-1, 1], "range": [-3, 33]}}}},
          {"data": {"values": [{"grp": "Tac", "val": 36.76, "s": "**"}, {"grp": "Wash", "val": 36.76, "s": "*"}, {"grp": "Menthol", "val": 37.03, "s": "***"}]}, "mark": {"type": "text", "fontSize": 40, "dy": 11, "baseline": "middle", "align": "center"}, "encoding": {"text": {"field": "s"}, "color": {"value": "#000"}}},
          {"data": {"values": [{"grp": "Menthol", "val": 39.1, "s": "#"}]}, "mark": {"type": "text", "fontSize": 34, "dy": 2, "baseline": "middle", "align": "center"}, "encoding": {"text": {"field": "s"}, "color": {"value": "#000"}}}
        ]
      },
      {"width": 173, "height": 1, "data": {"values": []}, "mark": "point"},
      {
        "width": 235, "height": 242,
        "title": {"text": "D", "dx": -132, "dy": 41, "offset": 0, "baseline": "alphabetic"},
        "encoding": {
          "x": {"field": "grp", "type": "nominal", "scale": {"type": "band", "domain": ["Cold", "Tac", "Wash", "Menthol"], "paddingInner": 0.49, "paddingOuter": 0.245}, "axis": {"title": null, "labelAngle": -45, "labelFontSize": 23, "tickSize": 9, "labelPadding": 2}},
          "y": {"field": "val", "type": "quantitative", "scale": {"domain": [12, 36], "nice": false, "zero": false}, "axis": {"values": [12, 14, 16, 18, 20, 22, 24, 26, 28, 30, 32, 34, 36], "labelExpr": "datum.value % 4 === 0 ? datum.label : ''", "title": "T. at peak firing (°C)", "titleX": -60, "titleY": 116, "titleAngle": -90, "titleAlign": "center", "titleBaseline": "bottom"}},
          "color": {"field": "grp", "type": "nominal", "scale": {"domain": ["Cold", "Tac", "Wash", "Menthol"], "range": ["#000000", "#f7941d", "#1f1fdf", "#35d935"]}, "legend": null}
        },
        "layer": [
          {"data": {"name": "dstat"}, "mark": {"type": "bar", "filled": false, "fillOpacity": 0, "strokeWidth": 2.5}, "encoding": {"y": {"field": "lo", "type": "quantitative", "scale": {"domain": [12, 36], "nice": false, "zero": false}, "axis": {"values": [12, 14, 16, 18, 20, 22, 24, 26, 28, 30, 32, 34, 36], "labelExpr": "datum.value % 4 === 0 ? datum.label : ''", "title": "T. at peak firing (°C)", "titleX": -60, "titleY": 116, "titleAngle": -90, "titleAlign": "center", "titleBaseline": "bottom"}}, "y2": {"field": "hi"}}},
          {"data": {"name": "dstat"}, "mark": {"type": "rule", "strokeWidth": 2.5}, "encoding": {"y": {"field": "wlo", "type": "quantitative", "scale": {"domain": [12, 36], "nice": false, "zero": false}, "axis": {"values": [12, 14, 16, 18, 20, 22, 24, 26, 28, 30, 32, 34, 36], "labelExpr": "datum.value % 4 === 0 ? datum.label : ''", "title": "T. at peak firing (°C)", "titleX": -60, "titleY": 116, "titleAngle": -90, "titleAlign": "center", "titleBaseline": "bottom"}}, "y2": {"field": "whi"}}},
          {"data": {"name": "dstat"}, "mark": {"type": "tick", "orient": "horizontal", "size": 13, "thickness": 2.5}, "encoding": {"y": {"field": "whi", "type": "quantitative", "scale": {"domain": [12, 36], "nice": false, "zero": false}, "axis": {"values": [12, 14, 16, 18, 20, 22, 24, 26, 28, 30, 32, 34, 36], "labelExpr": "datum.value % 4 === 0 ? datum.label : ''", "title": "T. at peak firing (°C)", "titleX": -60, "titleY": 116, "titleAngle": -90, "titleAlign": "center", "titleBaseline": "bottom"}}}},
          {"data": {"name": "dstat"}, "mark": {"type": "tick", "orient": "horizontal", "size": 13, "thickness": 2.5}, "encoding": {"y": {"field": "wlo", "type": "quantitative", "scale": {"domain": [12, 36], "nice": false, "zero": false}, "axis": {"values": [12, 14, 16, 18, 20, 22, 24, 26, 28, 30, 32, 34, 36], "labelExpr": "datum.value % 4 === 0 ? datum.label : ''", "title": "T. at peak firing (°C)", "titleX": -60, "titleY": 116, "titleAngle": -90, "titleAlign": "center", "titleBaseline": "bottom"}}}},
          {"data": {"name": "dstat"}, "mark": {"type": "point", "shape": "square", "filled": true, "size": 220, "opacity": 1}, "encoding": {"y": {"field": "mean", "type": "quantitative", "scale": {"domain": [12, 36], "nice": false, "zero": false}, "axis": {"values": [12, 14, 16, 18, 20, 22, 24, 26, 28, 30, 32, 34, 36], "labelExpr": "datum.value % 4 === 0 ? datum.label : ''", "title": "T. at peak firing (°C)", "titleX": -60, "titleY": 116, "titleAngle": -90, "titleAlign": "center", "titleBaseline": "bottom"}}}},
          {"data": {"name": "dpts"}, "mark": {"type": "point", "shape": "circle", "filled": false, "size": 180, "strokeWidth": 2.2, "opacity": 1}, "encoding": {"xOffset": {"field": "j", "type": "quantitative", "scale": {"domain": [-1, 1], "range": [-3, 33]}}}},
          {"data": {"values": [{"grp": "Menthol", "val": 34.3, "s": "**"}]}, "mark": {"type": "text", "fontSize": 40, "dy": 11, "baseline": "middle", "align": "center"}, "encoding": {"text": {"field": "s"}, "color": {"value": "#000"}}}
        ]
      }
    ]
  }
]
}
